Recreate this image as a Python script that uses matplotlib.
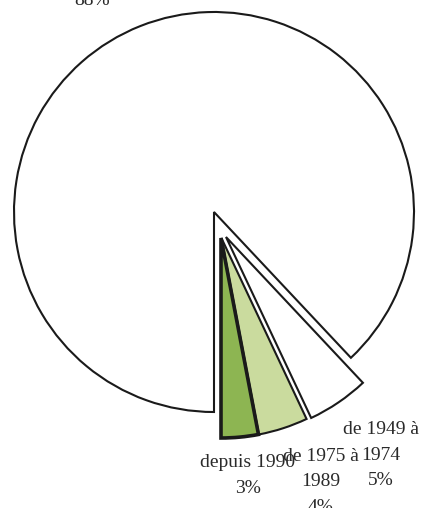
import matplotlib.pyplot as plt

# parts of the pie, in %
labels = ["88%", "depuis 1990\n3%", "de 1975 à\n1989\n4%", "de 1949 à\n1974\n5%"]
values = [88, 3, 4, 5]
colors = ["white", "#8db552", "#cadb9e", "white"]

# label spots (data units, radius = 1)
label_pos = [(-0.61, 1.035), (0.17, -1.3175), (0.535, -1.35), (0.835, -1.215)]

fig = plt.figure(figsize=(4.22, 5.08), dpi=100)
ax = fig.add_axes([0, 0, 1, 1])

# big slice ends straight down, small ones follow counterclockwise
start = 270 - 360 * values[0] / sum(values)
wedges, _ = ax.pie(values, colors=colors, startangle=start, counterclock=True,
                   radius=1.0,
                   wedgeprops=dict(edgecolor="#1a1a1a", linewidth=1.5))

# pull the small slices out as one block
shifts = [(0.0, 0.0), (0.035, -0.13), (0.037, -0.13), (0.06, -0.125)]
for w, (dx, dy) in zip(wedges, shifts):
    w.set_center((dx, dy))
wedges[1].set_linewidth(2.6)
wedges[1].set_zorder(3)

for txt, (x, y) in zip(labels, label_pos):
    va = "baseline" if txt == "88%" else "center"
    ax.text(x, y, txt, ha="center", va=va, fontsize=14, color="#2a2a2a",
            family="Liberation Serif", linespacing=1.68)

ax.set_xlim(-1.07, 1.04)
ax.set_ylim(-1.48, 1.06)
ax.set_aspect("auto")
ax.axis("off")

plt.savefig("out.png", dpi=100)
